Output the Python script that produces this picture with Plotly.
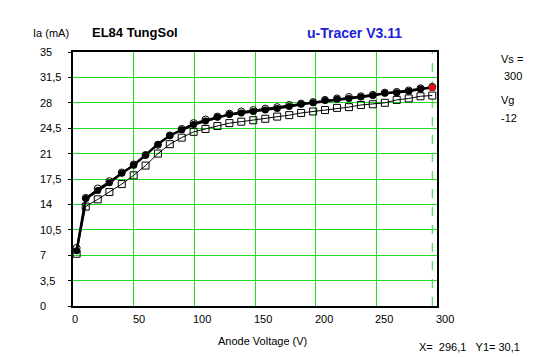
import plotly.graph_objects as go

# ---- data ----
anode_v = [3, 10.5, 20.4, 30, 40.2, 50, 59.8, 70, 79.8, 89.6, 99.4, 109.2, 119, 128.9, 138.7,
           148.6, 158.5, 168.3, 178.2, 188, 197.9, 207.7, 217.6, 227.4, 237.3, 247.1, 257,
           266.8, 276.7, 286.4, 296.1]
ia_filled = [7.6, 14.8, 15.9, 17.0, 18.3, 19.4, 20.8, 22.3, 23.5, 24.3, 25.0, 25.5, 26.0, 26.4,
             26.6, 26.8, 27.0, 27.2, 27.5, 27.8, 28.0, 28.3, 28.5, 28.6, 28.8, 29.0, 29.3,
             29.4, 29.6, 29.9, 30.1]
ia_open = [8.0, 14.9, 16.2, 17.2, 18.4, 19.5, 20.8, 22.2, 23.5, 24.4, 25.2, 25.7, 26.1, 26.5,
           26.8, 27.0, 27.2, 27.4, 27.7, 27.9, 28.1, 28.4, 28.6, 28.8, 28.9, 29.1, 29.4,
           29.5, 29.7, 30.0, 30.2]
ia_square = [7.2, 13.7, 14.7, 15.7, 16.8, 18.0, 19.35, 21.0, 22.3, 23.2, 24.0, 24.4, 24.8, 25.2,
             25.4, 25.6, 25.8, 26.1, 26.3, 26.6, 26.8, 27.0, 27.3, 27.4, 27.7, 27.8, 28.0,
             28.4, 28.6, 28.9, 29.0]
cursor_x = 296.1
cursor_y = 30.1

y_ticks = [0, 3.5, 7, 10.5, 14, 17.5, 21, 24.5, 28, 31.5, 35]
y_tick_labels = ["0", "3,5", "7", "10,5", "14", "17,5", "21", "24,5", "28", "31,5", "35"]
x_ticks = [0, 50, 100, 150, 200, 250, 300]
x_tick_labels = ["0", "50", "100", "150", "200", "250", "300"]

title_left = "EL84 TungSol"
title_right = "u-Tracer V3.11"
y_title = "Ia (mA)"
x_title = "Anode Voltage (V)"
readout = "X=  296,1   Y1= 30,1"
side_texts = ["Vs =", "300", "Vg", "-12"]

# ---- layout geometry (page body has an 8px margin) ----
OFF = 8
W, H = 547 - OFF, 357 - OFF
L, T = 73 - OFF, 52 - OFF
R = W - (437 - OFF)
B = H - (306 - OFF)
PW, PH = W - L - R, H - T - B
FONT = "Liberation Sans, Arial, sans-serif"
GREEN = "#1fdc1f"


def px(xp):
    return (xp - OFF - L) / PW


def py(yp):
    return (H - B - (yp - OFF)) / PH


fig = go.Figure()

fig.add_trace(go.Scatter(
    x=anode_v, y=ia_square, mode="lines+markers",
    line=dict(color="black", width=1),
    marker=dict(symbol="square-open", size=7, color="black", line=dict(width=1)),
    showlegend=False, hoverinfo="skip"))
fig.add_trace(go.Scatter(
    x=anode_v, y=ia_open, mode="lines+markers",
    line=dict(color="black", width=1),
    marker=dict(symbol="circle-open", size=7, color="black", line=dict(width=1)),
    showlegend=False, hoverinfo="skip"))
fig.add_trace(go.Scatter(
    x=anode_v, y=ia_filled, mode="lines+markers",
    line=dict(color="black", width=2.5),
    marker=dict(symbol="circle", size=7, color="black"),
    showlegend=False, hoverinfo="skip"))
fig.add_trace(go.Scatter(
    x=[cursor_x], y=[cursor_y], mode="markers",
    marker=dict(symbol="circle", size=7, color="#e01010"),
    showlegend=False, hoverinfo="skip"))

fig.add_shape(type="line", xref="x", yref="paper", x0=cursor_x, x1=cursor_x, y0=0, y1=1,
              line=dict(color=GREEN, width=1, dash="dash"), layer="below")

annotations = []
for v, lab in zip(y_ticks, y_tick_labels):
    annotations.append(dict(x=0, xref="paper", y=v, yref="y", text=lab, showarrow=False,
                            xanchor="left", xshift=-35, font=dict(size=11, color="black", family=FONT)))
for v, lab in zip(x_ticks, x_tick_labels):
    annotations.append(dict(x=v, xref="x", y=0, yref="paper", text=lab, showarrow=False,
                            xanchor="left", xshift=-3, yanchor="middle", yshift=-13,
                            font=dict(size=11, color="black", family=FONT)))

extra = [
    dict(x=px(31), y=py(33), text=y_title, xanchor="left", yanchor="middle",
         font=dict(size=11, color="black", family=FONT)),
    dict(x=px(90), y=py(33), text="<b>" + title_left + "</b>", xanchor="left", yanchor="middle",
         font=dict(size=13, color="black", family=FONT)),
    dict(x=px(305), y=py(33), text="<b>" + title_right + "</b>", xanchor="left", yanchor="middle",
         font=dict(size=14, color="#2020dd", family=FONT)),
    dict(x=px(262), y=py(341), text=x_title, xanchor="center", yanchor="middle",
         font=dict(size=11, color="black", family=FONT)),
    dict(x=px(417), y=py(347), text=readout.replace(" ", "&nbsp;"), xanchor="left", yanchor="middle",
         font=dict(size=11, color="black", family=FONT)),
    dict(x=px(499), y=py(59), text=side_texts[0], xanchor="left", yanchor="middle",
         font=dict(size=11, color="black", family=FONT)),
    dict(x=px(502), y=py(76), text=side_texts[1], xanchor="left", yanchor="middle",
         font=dict(size=11, color="black", family=FONT)),
    dict(x=px(499), y=py(100), text=side_texts[2], xanchor="left", yanchor="middle",
         font=dict(size=11, color="black", family=FONT)),
    dict(x=px(499), y=py(118), text=side_texts[3], xanchor="left", yanchor="middle",
         font=dict(size=11, color="black", family=FONT)),
]
for a in extra:
    a.update(xref="paper", yref="paper", showarrow=False)
annotations += extra

fig.update_layout(
    width=W, height=H,
    margin=dict(l=L, r=R, t=T, b=B, pad=0),
    paper_bgcolor="white", plot_bgcolor="white",
    annotations=annotations,
    xaxis=dict(range=[0, 300], tickvals=x_ticks, showticklabels=False,
               showgrid=True, gridcolor=GREEN, gridwidth=1, zeroline=False,
               showline=True, linecolor="black", linewidth=1.5, mirror=True,
               ticks="", fixedrange=True),
    yaxis=dict(range=[0, 35], tickvals=y_ticks, showticklabels=False,
               showgrid=True, gridcolor=GREEN, gridwidth=1, zeroline=False,
               showline=True, linecolor="black", linewidth=1.5, mirror=True,
               ticks="outside", ticklen=3, tickcolor="black", tickwidth=1, fixedrange=True),
)

fig.write_html("out.html")
